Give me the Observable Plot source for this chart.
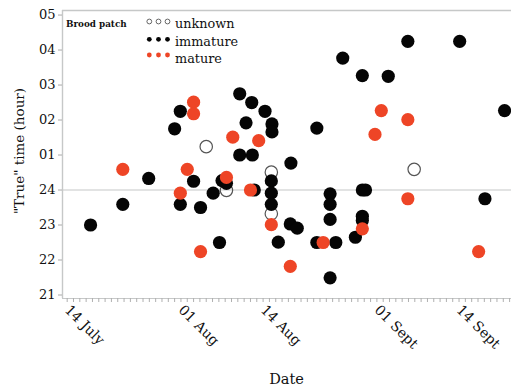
<!DOCTYPE html>
<html><head><meta charset="utf-8">
<script src="https://cdn.jsdelivr.net/npm/d3@7"></script>
<script src="https://cdn.jsdelivr.net/npm/@observablehq/plot@0.6"></script>
<style>
body{margin:0;background:#fff;}
#chart{width:511px;height:387px;}
</style></head><body><div id="chart"></div>
<script>
// x: days since 14 July; y: hours relative to midnight (negative = before 24:00)
const unknownDay  = [22.0, 25.2, 32.3, 32.3, 54.9];
const unknownHour = [1.24, -0.01, 0.51, -0.68, 0.59];

const immatureDay  = [3.7, 8.8, 12.9, 17.0, 17.9, 17.9, 20.0, 21.1, 23.1, 24.1, 24.5, 25.2, 27.3, 28.3, 29.2, 31.3, 32.4, 32.4, 27.3, 29.3, 29.6, 32.3, 32.3, 32.3, 35.4, 39.5, 35.3, 36.4, 33.4, 39.5, 42.5, 41.6, 41.6, 41.6, 41.6, 43.6, 45.6, 46.7, 47.2, 46.7, 46.7, 46.7, 50.8, 53.9, 62.1, 66.1, 69.2];
const immatureHour = [-1.0, -0.41, 0.33, 1.75, 2.25, -0.41, 0.25, -0.5, -0.09, -1.5, 0.27, 0.19, 2.75, 1.92, 2.5, 2.25, 1.89, 1.66, 1.0, 1.0, 0, 0.26, -0.09, -0.41, 0.77, 1.77, -0.97, -1.09, -1.49, -1.5, -1.5, -2.51, -0.11, -0.41, -0.84, 3.77, -1.35, 0, 0, -0.75, -0.87, 3.27, 3.25, 4.25, 4.25, -0.25, 2.27];

const matureDay  = [8.8, 17.9, 19.0, 20.0, 20.0, 21.1, 25.2, 26.2, 30.3, 29.0, 32.3, 35.3, 40.5, 46.7, 48.7, 49.7, 53.9, 53.9, 65.1];
const matureHour = [0.59, -0.09, 0.59, 2.51, 2.18, -1.76, 0.36, 1.51, 1.41, 0, -0.99, -2.18, -1.5, -1.11, 1.59, 2.27, 2.01, -0.25, -1.76];

const xTickDays   = [0, 18, 31, 49, 62];
const xTickLabels = ["14 July", "01 Aug", "14 Aug", "01 Sept", "14 Sept"];
const yTicks      = [-3, -2, -1, 0, 1, 2, 3, 4, 5];
const yTickLabels = ["21", "22", "23", "24", "01", "02", "03", "04", "05"];

const groups = ["unknown", "immature", "mature"];

const rows = (days, hours) => days.map((d, i) => ({day: d, hour: hours[i]}));
const unknown = rows(unknownDay, unknownHour);
const immature = rows(immatureDay, immatureHour);
const mature = rows(matureDay, matureHour);

const xDom = [-0.74, 70.3];
const yDom = [-3.1, 5.13];
const gray = "#c6c8c8";
const red = "#EE4526";
const font = '"DejaVu Serif", serif';

const svg = Plot.plot({
  width: 511, height: 387,
  marginLeft: 62, marginRight: 0, marginTop: 10, marginBottom: 89,
  style: {fontFamily: font, background: "white", overflow: "visible"},
  x: {domain: xDom},
  y: {domain: yDom},
  marks: [
    Plot.ruleY([0], {stroke: gray, strokeWidth: 1.2}),
    Plot.ruleY([yDom[1]], {stroke: gray, strokeWidth: 1.4}),
    Plot.ruleY([yDom[0]], {stroke: gray, strokeWidth: 1.2}),
    Plot.ruleX([xDom[0]], {stroke: gray, strokeWidth: 1.4}),
    Plot.axisY({ticks: yTicks, tickFormat: d => yTickLabels[yTicks.indexOf(d)], tickSize: 4, tickPadding: 3, fontSize: 13, label: null, stroke: "#aaaaaa", fill: "#111"}),
    Plot.axisX({ticks: d3.range(0, 71), tickFormat: () => "", tickSize: 4, label: null, stroke: "#b0b0b0"}),
    Plot.axisX({ticks: xTickDays, tickFormat: d => xTickLabels[xTickDays.indexOf(d)], tickSize: 0, tickPadding: 9, tickRotate: 45, fontSize: 14, label: null, fill: "#111"}),
    Plot.dot(unknown, {x: "day", y: "hour", r: 6.2, stroke: "#555", strokeWidth: 1.2, fill: "none"}),
    Plot.dot(immature, {x: "day", y: "hour", r: 6.6, fill: "#050505"}),
    Plot.dot(mature, {x: "day", y: "hour", r: 6.6, fill: red})
  ]
});
document.getElementById("chart").appendChild(svg);

const s = d3.select(svg);
// axis titles
s.append("text").attr("x", 286.5).attr("y", 384).attr("text-anchor", "middle")
  .attr("font-family", font).attr("font-size", 14.5).attr("fill", "#111").text("Date");
s.append("text").attr("transform", "translate(24,151) rotate(-90)").attr("text-anchor", "middle")
  .attr("font-family", font).attr("font-size", 13.5).attr("fill", "#111").text("\"True\" time (hour)");

// legend
s.append("text").attr("x", 66).attr("y", 27).attr("text-anchor", "start").attr("font-family", font).attr("font-size", 8.8)
  .attr("font-weight", "bold").attr("fill", "#111").text("Brood patch");
const legRows = [
  {g: groups[0], my: 21.5, ty: 28.3, fill: "none", stroke: "#555"},
  {g: groups[1], my: 39.3, ty: 45.7, fill: "#050505", stroke: "none"},
  {g: groups[2], my: 55, ty: 62.5, fill: red, stroke: "none"}
];
legRows.forEach(r => {
  [149.3, 158.5, 167.5].forEach(cx => {
    s.append("circle").attr("cx", cx).attr("cy", r.my).attr("r", 2.4)
      .attr("fill", r.fill).attr("stroke", r.stroke).attr("stroke-width", 0.9);
  });
  s.append("text").attr("x", 175).attr("y", r.ty).attr("text-anchor", "start").attr("font-family", font).attr("font-size", 12.8)
    .attr("fill", "#111").text(r.g);
});
</script>
</body></html>
